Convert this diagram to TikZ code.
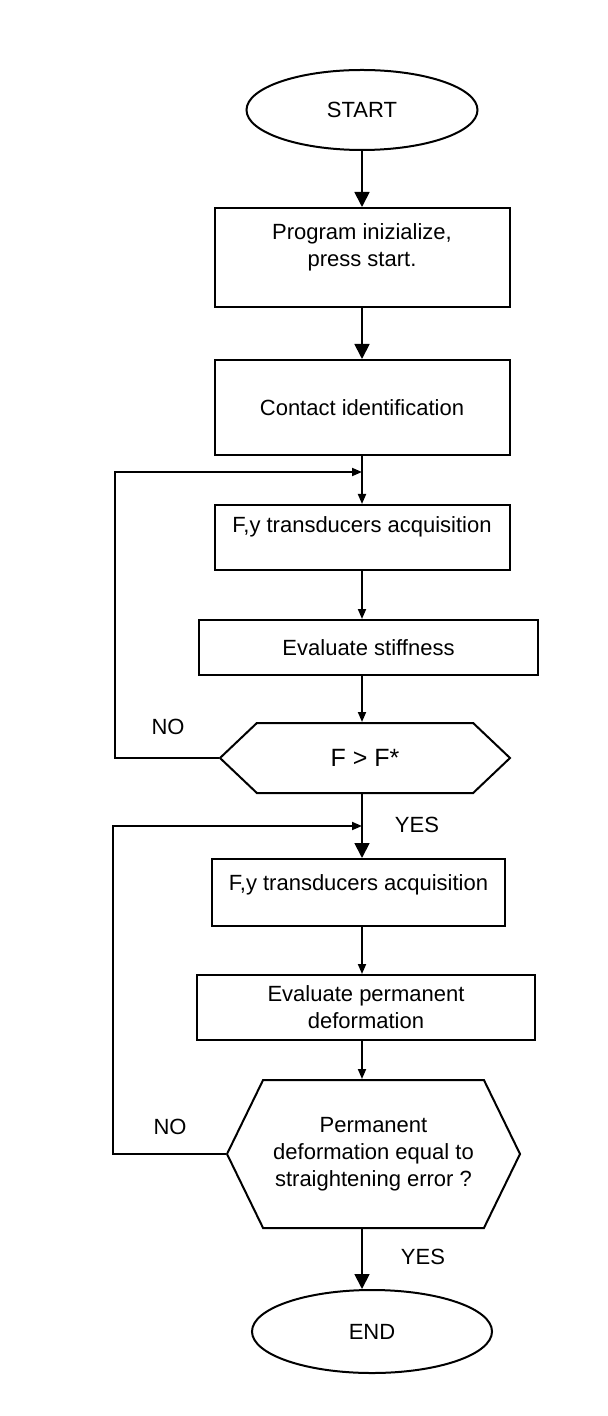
\documentclass[tikz,border=0pt]{standalone}
\usepackage{fontspec}
\setmainfont{Liberation Sans}
\usetikzlibrary{shapes.geometric,shapes.symbols,arrows.meta}
\begin{document}
\begin{tikzpicture}[x=0.5pt,y=-0.5pt]
\tikzstyle{every node}=[font=\fontsize{11}{13.5}\selectfont, line width=1pt, inner sep=0pt]
\tikzstyle{terminal}=[shape=ellipse, draw]
\tikzstyle{process}=[shape=rectangle, draw, align=center]
\tikzstyle{decision}=[shape=signal, signal to=west and east, draw, align=center]
\tikzstyle{big}=[line width=0.9pt, -{Triangle[length=7.5pt,width=7.5pt]}]
\tikzstyle{small}=[line width=0.9pt, -{Triangle[length=5pt,width=4pt]}]
\useasboundingbox (0,0) rectangle (608,1416);
\node [terminal, minimum width=115.5pt, minimum height=40pt] (start) at (362,110) {START};
\node [process, minimum width=147.5pt, minimum height=49.5pt, text depth=12pt] (init) at (362,257.5) {Program inizialize,\\press start.};
\node [process, minimum width=147.5pt, minimum height=47.5pt] (contact) at (362,407.5) {Contact identification};
\node [process, minimum width=147.5pt, minimum height=32.5pt, text depth=12.7pt] (fy1) at (362,537.5) {F,y transducers acquisition};
\node [process, minimum width=169.5pt, minimum height=27.5pt] (stiff) at (368.5,647.5) {Evaluate stiffness};
\node [decision, minimum width=145pt, minimum height=35pt, signal pointer angle=87, font=\fontsize{12.5}{14}\selectfont] (dec1) at (365,758) {F > F*};
\node [process, minimum width=146.5pt, minimum height=33.5pt, text depth=10.2pt] (fy2) at (358.5,892.5) {F,y transducers acquisition};
\node [process, minimum width=169pt, minimum height=32.5pt] (perm) at (366,1007.5) {Evaluate permanent\\deformation};
\node [decision, minimum width=146.5pt, minimum height=74pt, signal pointer angle=128] (dec2) at (373.5,1154) {Permanent\\deformation equal to\\straightening error ?};
\node [terminal, minimum width=120pt, minimum height=41.5pt] (end) at (372,1331.5) {END};
\node (no1) at (168,727) {NO};
\node (yes1) at (417,825) {YES};
\node (no2) at (170,1127) {NO};
\node (yes2) at (423,1257) {YES};
\coordinate (loop1) at (115,472);
\coordinate (loop2) at (113,826);
\draw [big] (start) to (init);
\draw [big] (init) to (contact);
\draw [small] (contact) to (fy1);
\draw [small] (fy1) to (fy1 |- stiff.north);
\draw [small] (fy1 |- stiff.south) to (fy1 |- dec1.north);
\draw [big] (fy1 |- dec1.south) to (fy1 |- fy2.north);
\draw [small] (fy1 |- fy2.south) to (fy1 |- perm.north);
\draw [small] (fy1 |- perm.south) to (fy1 |- dec2.north);
\draw [big] (fy1 |- dec2.south) to (fy1 |- end.north);
\draw [small] (dec1.west) -| (loop1) -- (loop1 -| fy1);
\draw [small] (dec2.west) -| (loop2) -- (loop2 -| fy1);
\end{tikzpicture}
\end{document}
